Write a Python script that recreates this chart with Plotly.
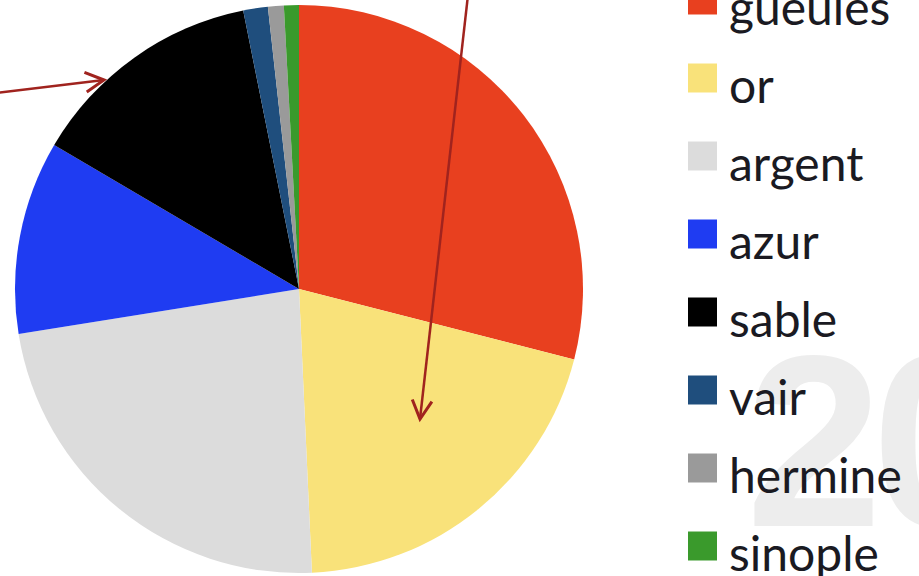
import math
import plotly.graph_objects as go

W, H = 919, 576

labels = ["gueules", "or", "argent", "azur", "sable", "vair", "hermine", "sinople"]
values = [29.0, 20.3, 23.2, 11.0, 13.4, 1.4, 0.9, 0.85]
colors = ["#E8401F", "#F9E27A", "#DCDCDC", "#1F3CF2", "#000000", "#1F4E7D", "#9A9A9A", "#3A9A2C"]


def px(x):
    return x / W


def py(y):
    return 1 - y / H


fig = go.Figure()
fig.add_trace(go.Pie(
    labels=labels,
    values=values,
    marker=dict(colors=colors, line=dict(width=0)),
    sort=False,
    direction="clockwise",
    rotation=0,
    textinfo="none",
    showlegend=False,
    domain=dict(x=[px(15), px(583)], y=[py(573), py(5)]),
))

annotations = []
shapes = []

# watermark digits
wm_font = dict(family="Liberation Sans, Arial", size=245, color="#EDEDED", weight="bold")
annotations.append(dict(
    x=px(814), y=py(441), xref="paper", yref="paper", xanchor="center", yanchor="middle",
    text="2", showarrow=False, font=wm_font,
))
annotations.append(dict(
    x=px(940), y=py(441), xref="paper", yref="paper", xanchor="center", yanchor="middle",
    text="0", showarrow=False, font=wm_font,
))

# custom legend
gap = 78
for i, (lab, col) in enumerate(zip(labels, colors)):
    sq_c = 78 + gap * (i - 1)
    tx_c = 84.5 + gap * (i - 1)
    shapes.append(dict(type="rect", xref="paper", yref="paper",
                       x0=px(688), x1=px(717), y0=py(sq_c + 14.5), y1=py(sq_c - 14.5),
                       fillcolor=col, line=dict(width=0)))
    annotations.append(dict(
        x=px(727), y=py(tx_c), xref="paper", yref="paper", xanchor="left", yanchor="middle",
        text=lab, showarrow=False,
        font=dict(family="Lato", size=48, color="#1A1A22"),
    ))

# arrows (shaft + open V head)
arrow_color = "#A0231E"


def arrow(x0, y0, x1, y1, arm=21, ang=28):
    shapes.append(dict(type="line", xref="paper", yref="paper",
                       x0=px(x0), y0=py(y0), x1=px(x1), y1=py(y1),
                       line=dict(color=arrow_color, width=2.5)))
    d = math.atan2(y0 - y1, x0 - x1)
    pts = []
    for s in (-1, 1):
        a = d + s * math.radians(ang)
        pts.append((x1 + arm * math.cos(a), y1 + arm * math.sin(a)))
    path = "M {} {} L {} {} L {} {}".format(
        px(pts[0][0]), py(pts[0][1]), px(x1), py(y1), px(pts[1][0]), py(pts[1][1]))
    shapes.append(dict(type="path", xref="paper", yref="paper", path=path,
                       line=dict(color=arrow_color, width=3)))


arrow(468, -5, 420, 419)
arrow(-5, 93, 104, 80)

fig.update_layout(
    width=W, height=H,
    margin=dict(l=0, r=0, t=0, b=0),
    paper_bgcolor="white", plot_bgcolor="white",
    annotations=annotations, shapes=shapes,
)

fig.write_html(
    "out.html",
    config={"displayModeBar": False},
    post_script="document.body.style.margin='0';document.body.style.overflow='hidden';",
)
